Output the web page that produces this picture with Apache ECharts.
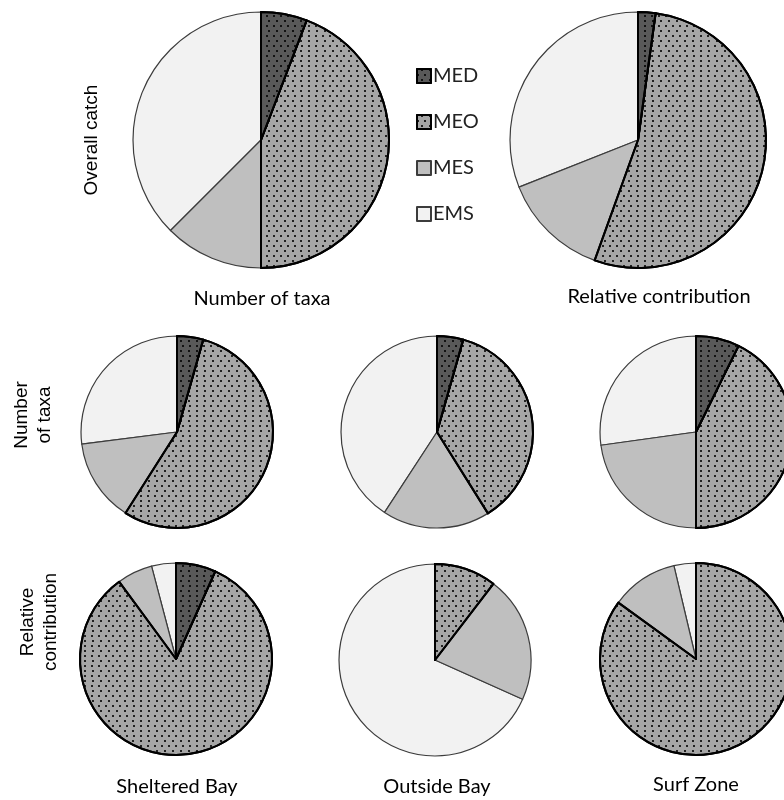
<!DOCTYPE html>
<html>
<head>
<meta charset="utf-8">
<script src="https://cdn.jsdelivr.net/npm/echarts@6/dist/echarts.min.js"></script>
<style>
html,body{margin:0;padding:0;background:#fff;}
#c{width:784px;height:800px;}
</style>
</head>
<body>
<div id="c"></div>
<script>
// ---- data (percent of each pie) ----
const categories = ['MED', 'MEO', 'MES', 'EMS'];
const overallTaxa      = [5.8, 44.2, 12.5, 37.5];
const overallContrib   = [2.2, 53.3, 13.5, 31.0];
const shelteredTaxa    = [4.4, 54.6, 14.0, 27.0];
const outsideTaxa      = [4.4, 36.7, 18.1, 40.8];
const surfTaxa         = [7.3, 42.7, 22.8, 27.2];
const shelteredContrib = [6.7, 83.2, 6.0, 4.1];
const outsideContrib   = [0, 10.4, 21.3, 68.3];
const surfContrib      = [0, 85.0, 11.3, 3.7];

const rowLabels = ['Overall catch', 'Number\nof taxa', 'Relative\ncontribution'];
const topLabels = ['Number of taxa', 'Relative contribution'];
const colLabels = ['Sheltered Bay', 'Outside Bay', 'Surf Zone'];

// ---- styles ----
const dotDecal = {
  symbol: 'rect', symbolSize: 1,
  dashArrayX: [[2, 5], [0, 3.5, 2, 1.5]],
  dashArrayY: [2, 3],
  color: 'rgba(0,0,0,0.8)'
};
const styles = {
  MED: { color: '#595959', borderColor: '#000', borderWidth: 2, decal: dotDecal },
  MEO: { color: '#a6a6a6', borderColor: '#000', borderWidth: 2, decal: dotDecal },
  MES: { color: '#bfbfbf', borderColor: '#3c3c3c', borderWidth: 1.2 },
  EMS: { color: '#f2f2f2', borderColor: '#3c3c3c', borderWidth: 1.2 }
};

function pie(values, cx, cy, r) {
  const data = categories.map((n, i) => ({ name: n, value: values[i], itemStyle: styles[n] })).reverse();
  return {
    type: 'pie', center: [cx, cy], radius: r,
    startAngle: 90, clockwise: false,
    label: { show: false }, labelLine: { show: false },
    emphasis: { disabled: true }, silent: true,
    data: data
  };
}

const series = [
  pie(overallTaxa, 261, 140, 128),
  pie(overallContrib, 638, 140, 128),
  pie(shelteredTaxa, 177, 432, 96),
  pie(outsideTaxa, 437, 432, 96),
  pie(surfTaxa, 696, 432, 96),
  pie(shelteredContrib, 176, 659, 96),
  pie(outsideContrib, 435, 660, 96),
  pie(surfContrib, 696, 659, 96)
];

const labFont = '20px Lato';
const sideFont = '19px "Liberation Sans"';
function txt(t, x, y, font, rot) {
  return { type: 'text', x: x, y: y, rotation: rot || 0, silent: true,
    style: { text: t, font: font, fill: '#000', align: 'center', verticalAlign: 'middle', lineHeight: 23 } };
}

const graphic = [
  txt(rowLabels[0], 92, 140, sideFont, Math.PI / 2),
  txt(rowLabels[1], 33, 415, sideFont, Math.PI / 2),
  txt(rowLabels[2], 39, 622, sideFont, Math.PI / 2),
  txt(topLabels[0], 262, 299, labFont),
  txt(topLabels[1], 659, 297, labFont),
  txt(colLabels[0], 177, 787, labFont),
  txt(colLabels[1], 437, 787, labFont),
  txt(colLabels[2], 696, 785, labFont)
];

const chart = echarts.init(document.getElementById('c'), null, { renderer: 'canvas' });
chart.setOption({
  animation: false,
  backgroundColor: '#fff',
  legend: {
    data: categories, orient: 'vertical', left: 411, top: 61,
    icon: 'rect', itemWidth: 14, itemHeight: 14, itemGap: 26,
    selectedMode: false,
    textStyle: { fontFamily: 'Lato', fontSize: 20, color: '#222', lineHeight: 20, padding: [0, 0, 0, -3] }
  },
  graphic: graphic,
  series: series
});
</script>
</body>
</html>
